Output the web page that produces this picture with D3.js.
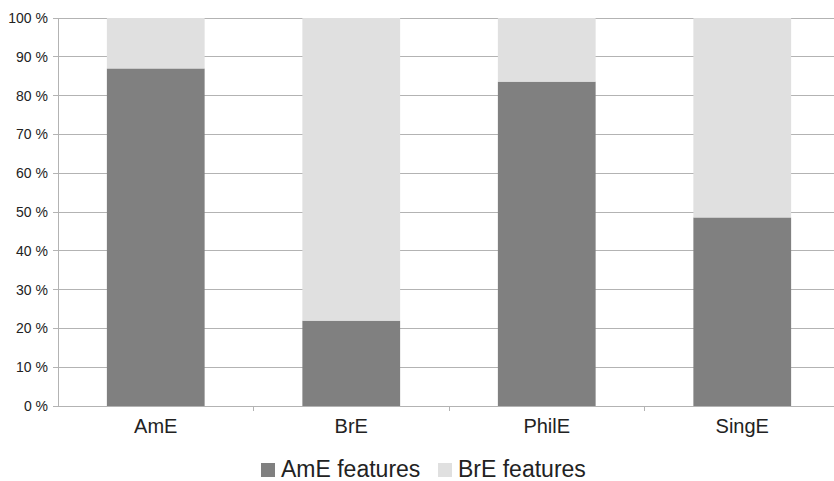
<!DOCTYPE html>
<html><head><meta charset="utf-8">
<script src="https://cdn.jsdelivr.net/npm/d3@7"></script>
<style>body{margin:0;background:#fff;}svg{display:block;font-family:"Liberation Sans",Arial,sans-serif;}</style>
</head><body>
<svg id="c" width="834" height="481"></svg>
<script>
const categories = ["AmE", "BrE", "PhilE", "SingE"];
const seriesNames = ["AmE features", "BrE features"];
const ameValues = [87.0, 22.0, 83.6, 48.6];
const breValues = ameValues.map(v => 100 - v);
const yTicks = [0,10,20,30,40,50,60,70,80,90,100];
const colors = ["#808080", "#e0e0e0"];

const svg = d3.select("#c");
const L = 58, R = 840, T = 18, B = 406;
const x = d3.scaleBand().domain(categories).range([L, R]).paddingInner(0.5).paddingOuter(0.25);
const xb = d3.scaleBand().domain(categories).range([L, R]);
const y = d3.scaleLinear().domain([0, 100]).range([B, T]);

// gridlines
svg.append("g").selectAll("line").data(yTicks).join("line")
  .attr("x1", L - 5).attr("x2", R).attr("y1", d => y(d)).attr("y2", d => y(d))
  .attr("stroke", "#b3b3b3").attr("stroke-width", 1).attr("shape-rendering", "crispEdges");

// y axis line
svg.append("line").attr("x1", L).attr("x2", L).attr("y1", T).attr("y2", B)
  .attr("stroke", "#b3b3b3").attr("shape-rendering", "crispEdges");

// y labels
svg.append("g").selectAll("text").data(yTicks).join("text")
  .attr("x", 48).attr("y", d => y(d)).attr("dy", "0.35em")
  .attr("text-anchor", "end").attr("font-size", 14).attr("fill", "#222")
  .text(d => d + " %");

// stacked data
const data = categories.map((c, i) => ({cat: c, AmE: ameValues[i], BrE: breValues[i]}));
const stack = d3.stack().keys(["AmE", "BrE"])(data);

svg.append("g").selectAll("g").data(stack).join("g")
  .attr("fill", (d, i) => colors[i])
  .selectAll("rect").data(d => d).join("rect")
  .attr("x", d => x(d.data.cat))
  .attr("width", x.bandwidth())
  .attr("y", d => y(d[1]))
  .attr("height", d => y(d[0]) - y(d[1]));

// x axis line
svg.append("line").attr("x1", L).attr("x2", R).attr("y1", B).attr("y2", B)
  .attr("stroke", "#b3b3b3").attr("shape-rendering", "crispEdges");
// x ticks at band boundaries
const bounds = categories.map(c => xb(c)).slice(1);
svg.append("g").selectAll("line").data(bounds).join("line")
  .attr("x1", d => d).attr("x2", d => d).attr("y1", B).attr("y2", B + 5)
  .attr("stroke", "#b3b3b3").attr("shape-rendering", "crispEdges");

// x labels
svg.append("g").selectAll("text").data(categories).join("text")
  .attr("x", d => x(d) + x.bandwidth() / 2).attr("y", 433)
  .attr("text-anchor", "middle").attr("font-size", 20).attr("fill", "#222")
  .text(d => d);

// legend
const legend = svg.append("g");
const legendX = [261, 438];
seriesNames.forEach((n, i) => {
  legend.append("rect").attr("x", legendX[i]).attr("y", 463).attr("width", 14).attr("height", 14).attr("fill", colors[i]);
  legend.append("text").attr("x", legendX[i] + 20).attr("y", 477)
    .attr("font-size", 23).attr("fill", "#222").text(n);
});
</script>
</body></html>
